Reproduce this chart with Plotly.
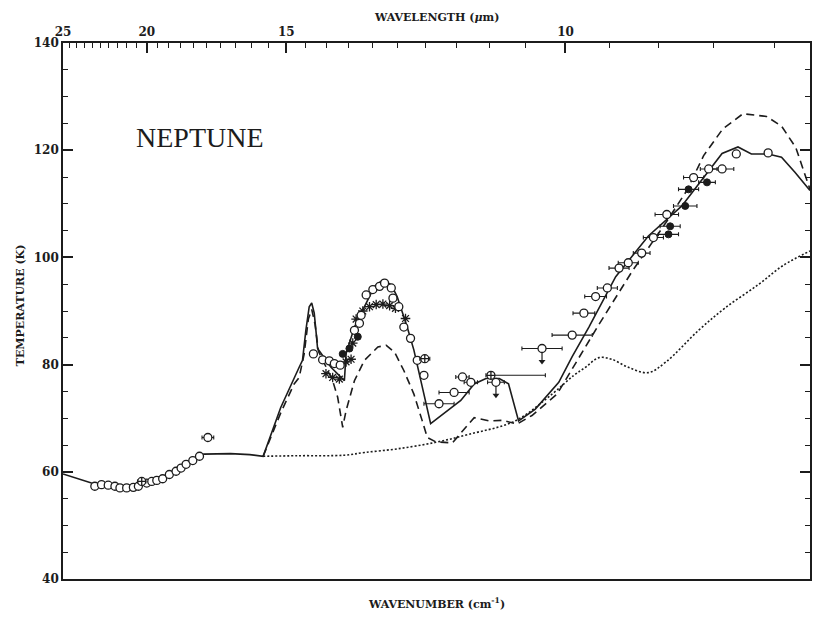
import plotly.graph_objects as go

INK = "#1c1c1c"

# ---- model brightness-temperature spectra (wavenumber in cm^-1, T in K) ----
nu_solid = [400, 434, 470, 500, 530, 555, 568, 600, 623, 639, 660, 682, 686, 690,
            694, 697, 700, 702, 704, 720, 736, 738, 748, 760, 772, 782, 792, 799,
            811, 819, 827, 839, 875, 891, 905, 921, 932, 944, 964, 992, 1008, 1028,
            1060, 1099, 1139, 1167, 1187, 1206, 1222, 1242, 1258, 1274, 1292]
t_solid = [59.6, 57.9, 57.3, 57.7, 59.4, 62.0, 63.3, 63.4, 63.2, 62.9, 72.0, 79.5,
           80.8, 86.4, 90.8, 91.5, 89.6, 86.4, 83.0, 79.5, 77.0, 82.0, 87.0, 90.8,
           94.6, 95.8, 94.9, 92.7, 87.0, 82.7, 77.0, 69.0, 73.3, 76.4, 77.4, 77.4,
           76.4, 69.5, 71.7, 76.7, 81.5, 87.0, 96.4, 104.0, 109.6, 115.2, 119.4,
           120.6, 119.3, 119.3, 118.7, 115.9, 112.5]

nu_dashed = [639, 660, 676, 682, 688, 693, 697, 701, 705, 714, 722, 728, 734, 738,
             748, 760, 776, 786, 796, 807, 819, 829, 835, 845, 865, 881, 891, 909,
             925, 942, 960, 990, 1040, 1080, 1120, 1145, 1165, 1188, 1212, 1240,
             1258, 1275, 1292]
t_dashed = [62.9, 71.0, 76.4, 77.6, 82.0, 88.5, 90.3, 87.5, 82.5, 79.5, 77.0, 73.9,
            68.3, 71.4, 77.0, 80.8, 83.3, 83.6, 82.3, 78.9, 74.5, 69.5, 66.4, 65.6,
            65.4, 68.3, 70.1, 69.5, 69.6, 68.9, 70.5, 74.5, 87.5, 97.5, 106.5, 112.5,
            119.0, 124.0, 126.8, 126.3, 124.5, 120.5, 112.7]

nu_dotted = [639, 680, 736, 760, 800, 845, 885, 940, 984, 1010, 1024, 1040, 1055,
             1075, 1099, 1120, 1159, 1190, 1230, 1260, 1292]
t_dotted = [62.9, 63.0, 63.1, 63.6, 64.3, 65.5, 67.0, 69.5, 74.5, 78.0, 79.5, 81.3,
            81.0, 79.5, 78.5, 80.5, 86.4, 90.5, 94.9, 98.5, 101.2]

# ---- observations ----
obs_nu = [438, 446, 454, 462, 468, 476, 484, 490, 500, 506, 512, 519, 527, 535, 541,
          547, 555, 563, 573,
          699, 710, 718, 724, 731, 748, 754, 756, 762, 770, 778, 784, 792, 794, 801,
          807, 815, 823, 831, 849, 867, 877, 887, 917, 972, 1008, 1022, 1036, 1050,
          1064, 1075, 1091, 1105, 1121, 1153, 1171, 1187, 1204, 1242]
obs_t = [57.3, 57.6, 57.5, 57.3, 57.0, 57.0, 57.1, 57.3, 57.9, 58.2, 58.4, 58.7, 59.5,
         60.1, 60.7, 61.4, 62.1, 62.9, 66.4,
         82.0, 80.9, 80.7, 80.2, 79.9, 86.4, 87.7, 89.2, 93.0, 94.0, 94.6, 95.2, 94.3,
         92.4, 90.8, 87.0, 84.9, 80.8, 78.0, 72.7, 74.8, 77.7, 76.7, 76.7, 83.0, 85.5,
         89.6, 92.7, 94.3, 98.0, 99.0, 100.8, 103.7, 108.0, 114.9, 116.5, 116.5,
         119.3, 119.5]
obs_dnu = [0, 0, 0, 0, 0, 0, 0, 0, 0, 0, 0, 0, 0, 0, 0, 0, 0, 0, 7,
           0, 0, 0, 0, 0, 0, 0, 0, 0, 0, 0, 0, 0, 0, 0, 0, 0, 0, 0, 18, 18, 8, 8, 10,
           24, 24, 13, 13, 12, 12, 12, 10, 12, 14, 12, 10, 14, 0, 0]

filled_nu = [734, 742, 752, 1123, 1125, 1143, 1147, 1169]
filled_t = [82.0, 83.0, 85.2, 104.3, 105.8, 109.6, 112.7, 114.0]
filled_dnu = [0, 0, 0, 12, 12, 14, 12, 10]

star_nu = [714, 722, 730, 738, 744, 746, 750, 758, 766, 774, 782, 790, 797, 809]
star_t = [78.3, 77.6, 77.3, 80.5, 81.0, 84.0, 88.5, 90.0, 90.8, 91.2, 91.3, 91.0,
          90.5, 88.6]

cross_nu = [494, 832, 911]
cross_t = [58.2, 81.1, 78.0]
cross_dnu_plus = [5, 6, 65]
cross_dnu_minus = [5, 6, 6]

# upper limits (arrow drawn below the point)
limit_nu = [917, 972]
limit_t = [76.7, 83.0]
arrow_len = 2.4

# wavelength ticks on the top axis (micrometres)
lam_major = [25, 20, 15, 10]
lam_minor = [24.5, 24, 23.5, 23, 22.5, 22, 21.5, 21, 20.5,
             19.5, 19, 18.5, 18, 17.5, 17, 16.5, 16, 15.5,
             14.5, 14, 13.5, 13, 12.5, 12, 11.5, 11, 10.5,
             9.5, 9, 8.5, 8]

X_RANGE = [400, 1292]

fig = go.Figure()

fig.add_trace(go.Scatter(x=nu_dotted, y=t_dotted, mode="lines", line_shape="spline",
                         line=dict(color=INK, width=1.6, dash="2px,2px")))
fig.add_trace(go.Scatter(x=nu_dashed, y=t_dashed, mode="lines",
                         line=dict(color=INK, width=1.6, dash="8px,5px")))
fig.add_trace(go.Scatter(x=nu_solid, y=t_solid, mode="lines",
                         line=dict(color=INK, width=1.6)))

# upper-limit arrows
ax, ay = [], []
for n, t in zip(limit_nu, limit_t):
    ax += [n, n, None]
    ay += [t, t - arrow_len, None]
fig.add_trace(go.Scatter(x=ax, y=ay, mode="lines", line=dict(color=INK, width=1.2)))
fig.add_trace(go.Scatter(x=limit_nu, y=[t - arrow_len for t in limit_t], mode="markers",
                         marker=dict(symbol="triangle-down", size=6, color=INK)))

err = dict(type="data", color=INK, thickness=1.1, width=2)

fig.add_trace(go.Scatter(x=star_nu, y=star_t, mode="markers",
                         marker=dict(symbol="asterisk-open", size=8, color=INK,
                                     line=dict(color=INK, width=1.3))))
fig.add_trace(go.Scatter(x=obs_nu, y=obs_t, mode="markers",
                         error_x=dict(array=obs_dnu, **err),
                         marker=dict(symbol="circle", size=8, color="white",
                                     line=dict(color=INK, width=1.3))))
fig.add_trace(go.Scatter(x=filled_nu, y=filled_t, mode="markers",
                         error_x=dict(array=filled_dnu, **err),
                         marker=dict(symbol="circle", size=7, color=INK,
                                     line=dict(color=INK, width=1))))
fig.add_trace(go.Scatter(x=cross_nu, y=cross_t, mode="markers",
                         error_x=dict(array=cross_dnu_plus, arrayminus=cross_dnu_minus,
                                      symmetric=False, **err),
                         marker=dict(symbol="circle-cross", size=8, color="white",
                                     line=dict(color=INK, width=1.3))))

# empty trace that carries the minor wavelength-tick axis
fig.add_trace(go.Scatter(x=[], y=[], xaxis="x2", yaxis="y", mode="markers"))

tick_font = dict(family="DejaVu Serif", size=12, color=INK, weight="bold")
title_font = dict(family="DejaVu Serif", size=11, color=INK, weight="bold")

fig.update_layout(
    width=817, height=617,
    margin=dict(l=63, r=5, t=43, b=38),
    paper_bgcolor="white", plot_bgcolor="white",
    showlegend=False,
    xaxis=dict(
        range=X_RANGE, side="top",
        tickmode="array", tickvals=[1e4 / w for w in lam_major],
        ticktext=[str(w) for w in lam_major],
        ticks="inside", ticklen=10, tickwidth=1.6, tickcolor=INK,
        showline=True, linecolor=INK, linewidth=1.6, mirror=True,
        showgrid=False, zeroline=False, tickfont=tick_font,
    ),
    xaxis2=dict(
        range=X_RANGE, side="top", overlaying="x", anchor="y",
        tickmode="array", tickvals=[1e4 / w for w in lam_minor],
        ticks="inside", ticklen=5, tickwidth=1.3, tickcolor=INK,
        showticklabels=False, showline=False, showgrid=False, zeroline=False,
    ),
    yaxis=dict(
        range=[40, 140], tickmode="linear", tick0=40, dtick=20,
        ticks="inside", ticklen=10, tickwidth=1.6, tickcolor=INK,
        showline=True, linecolor=INK, linewidth=1.6, mirror="ticks",
        showgrid=False, zeroline=False, tickfont=tick_font,
        minor=dict(dtick=5, ticks="inside", ticklen=5, tickwidth=1.3, tickcolor=INK,
                   showgrid=False),
    ),
    annotations=[
        dict(text="NEPTUNE", x=0.184, y=0.823, xref="paper", yref="paper",
             showarrow=False, xanchor="center", yanchor="middle",
             font=dict(family="Liberation Serif", size=28, color=INK)),
        dict(text="WAVELENGTH (<i>μ</i>m)", x=0.5, y=1.0485, xref="paper", yref="paper",
             showarrow=False, xanchor="center", yanchor="middle", font=title_font),
        dict(text="WAVENUMBER (cm<sup>-1</sup>)", x=0.5, y=-0.045, xref="paper",
             yref="paper", showarrow=False, xanchor="center", yanchor="middle",
             font=title_font),
        dict(text="TEMPERATURE (K)", x=-0.0574, y=0.511, xref="paper", yref="paper",
             showarrow=False, xanchor="center", yanchor="middle", textangle=-90,
             font=title_font),
    ],
)

fig.write_html("out.html")
